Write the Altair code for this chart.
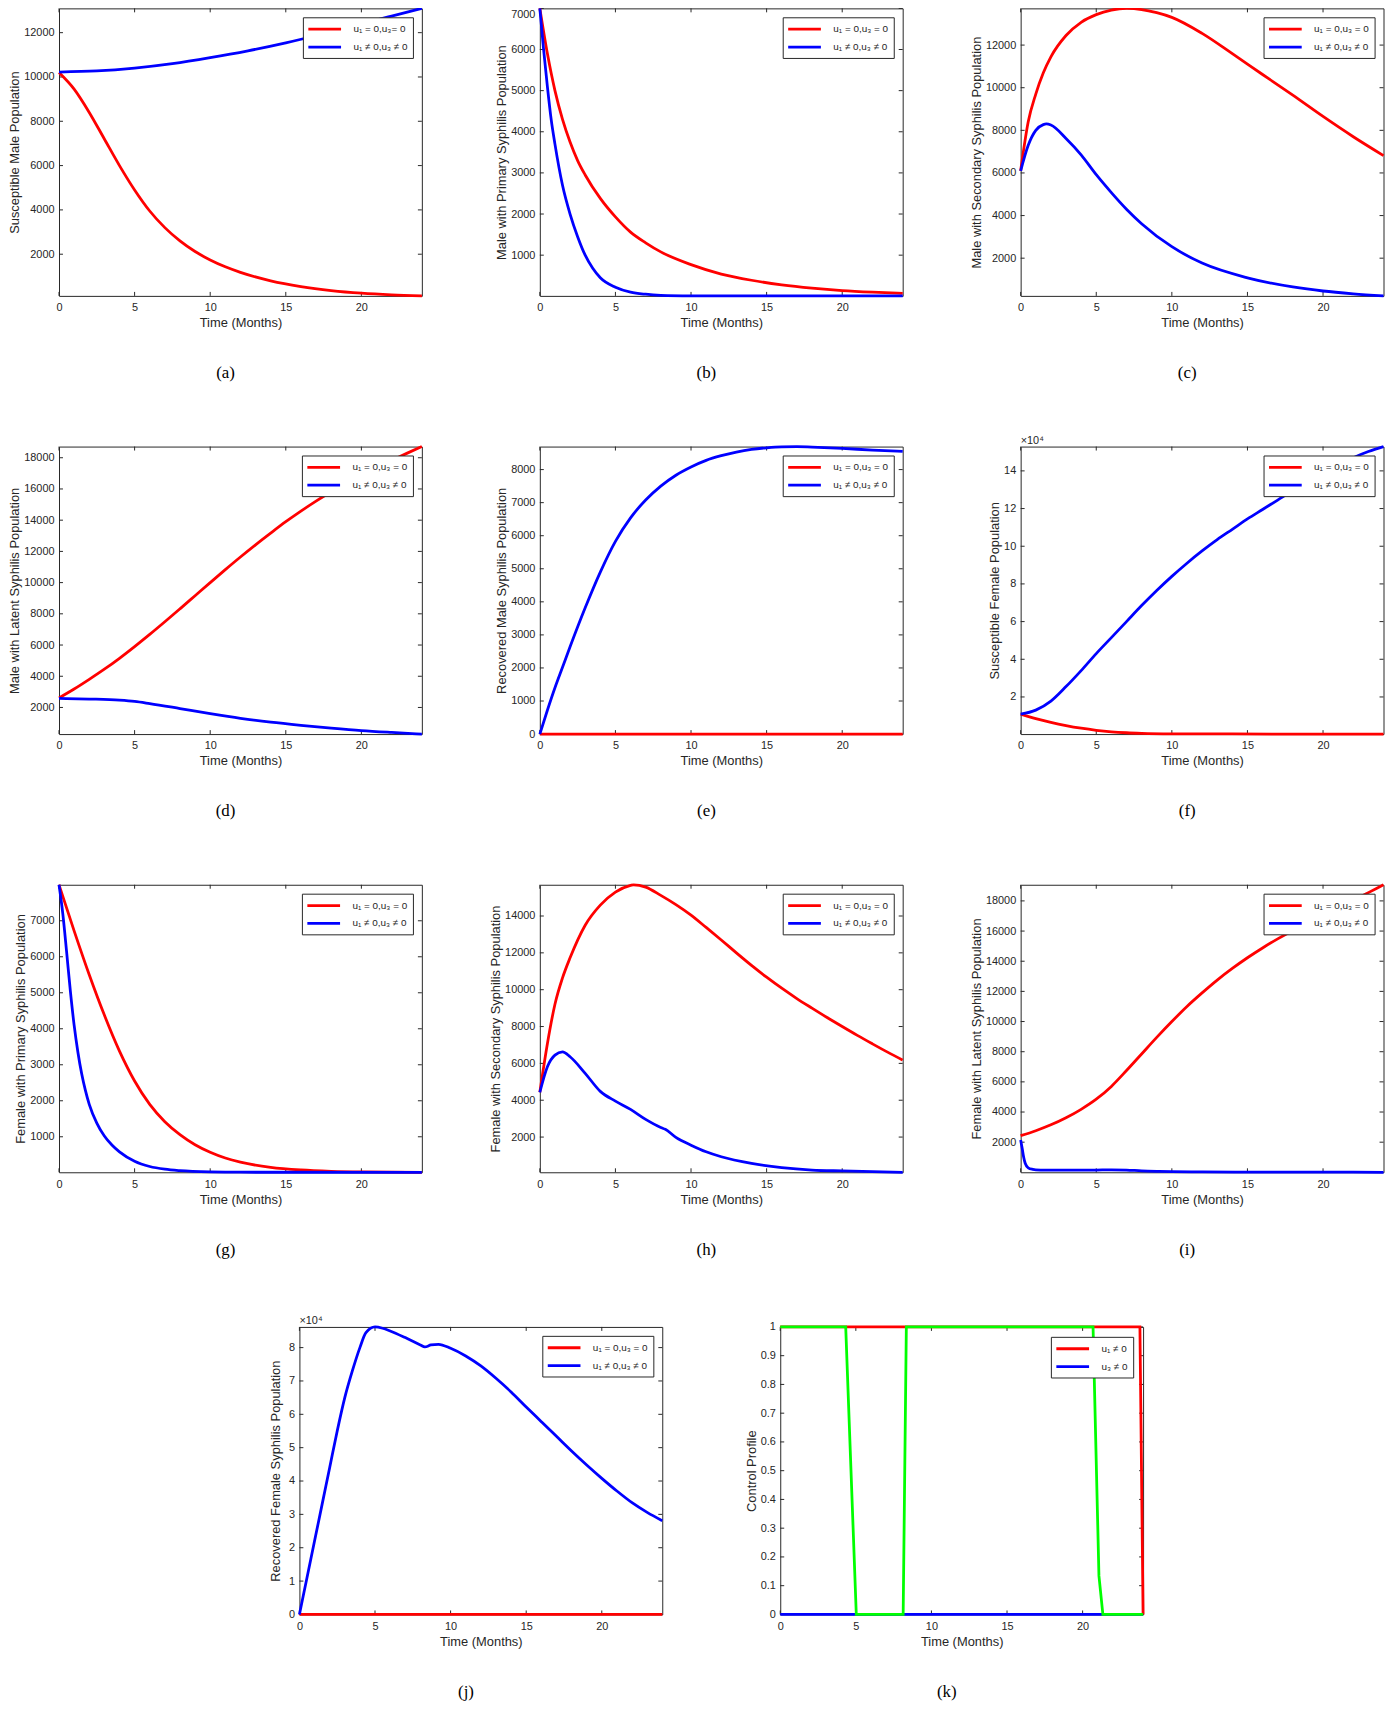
import altair as alt
import pandas as pd

FONT = "Liberation Sans"
SERIF = "Liberation Serif"
INK = "#262626"
RED, BLUE, GREEN = "#FF0000", "#0000FF", "#00FF00"
W, H = 366, 290
LW = 2.8

X_TICKS = [0, 5, 10, 15, 20]
X_TITLE = "Time (Months)"
LAB_OFF = "u₁ = 0,u₃ = 0"
LAB_OFF_A = "u₁ = 0,u₃= 0"
LAB_ON = "u₁ ≠ 0,u₃ ≠ 0"
LAB_U1 = "u₁ ≠ 0"
LAB_U3 = "u₃ ≠ 0"
SCALE_NOTE = "×10⁴"

# (a) Susceptible male
A_T_RED = [0, 1, 2, 3, 4, 5, 6, 7, 8, 9, 10, 11, 12, 14, 16, 18, 20, 22, 24]
A_RED = [10200, 9450, 8400, 7200, 6000, 4900, 3950, 3200, 2600, 2120, 1740, 1430, 1180, 800, 540, 360, 240, 165, 119]
A_T_BLUE = [0, 2.5, 5, 7.5, 10, 12.5, 15, 17.5, 20, 22, 24]
A_BLUE = [10220, 10270, 10400, 10600, 10870, 11180, 11540, 11950, 12400, 12750, 13096]
A_YTICKS = [2000, 4000, 6000, 8000, 10000, 12000]

# (b) Male primary
B_T_RED = [0, 0.5, 1, 1.5, 2, 2.5, 3, 4, 5, 6, 7, 8, 10, 12, 14, 16, 18, 20, 22, 24]
B_RED = [7000, 5900, 5000, 4300, 3750, 3300, 2950, 2380, 1930, 1560, 1300, 1080, 770, 540, 390, 280, 200, 140, 100, 70]
B_T_BLUE = [0, 0.25, 0.5, 0.75, 1, 1.5, 2, 2.5, 3, 3.5, 4, 5, 6, 7, 8, 10, 12, 16, 20, 24]
B_BLUE = [7000, 6000, 5100, 4300, 3700, 2700, 2000, 1450, 1000, 680, 450, 220, 100, 50, 25, 12, 10, 10, 10, 10]
B_YTICKS = [1000, 2000, 3000, 4000, 5000, 6000, 7000]

# (c) Male secondary
C_T_RED = [0, 0.5, 1, 1.5, 2, 3, 4, 5, 6, 7, 8, 9, 10, 12, 14, 16, 18, 20, 22, 24]
C_RED = [6100, 8400, 9700, 10700, 11450, 12450, 13070, 13430, 13640, 13720, 13670, 13520, 13300, 12550, 11600, 10620, 9650, 8650, 7700, 6815]
C_T_BLUE = [0, 0.5, 1, 1.5, 1.7, 2, 3, 4, 5, 6, 7, 8, 10, 12, 15, 18, 20, 22, 24]
C_BLUE = [6100, 7300, 8000, 8270, 8300, 8250, 7620, 6850, 5920, 5080, 4300, 3620, 2540, 1770, 1080, 650, 460, 330, 231]
C_YTICKS = [2000, 4000, 6000, 8000, 10000, 12000]

# (d) Male latent
D_T_RED = [0, 1, 2, 3, 4, 5, 6, 7, 8, 9, 10, 11, 12, 13, 14, 15, 16, 17, 18, 19, 20, 21, 22, 23, 24]
D_RED = [2610, 3180, 3800, 4450, 5150, 5900, 6680, 7490, 8320, 9160, 10000, 10830, 11640, 12420, 13170, 13900, 14580, 15220, 15820, 16380, 16900, 17380, 17830, 18280, 18716]
D_T_BLUE = [0, 2, 4, 5, 6, 8, 10, 12, 14, 16, 18, 20, 22, 24]
D_BLUE = [2580, 2540, 2470, 2390, 2250, 1930, 1600, 1300, 1060, 860, 680, 520, 400, 295]
D_YTICKS = [2000, 4000, 6000, 8000, 10000, 12000, 14000, 16000, 18000]

# (e) Recovered male
E_T_RED = [0, 24]
E_RED = [0, 0]
E_T_BLUE = [0, 0.5, 1, 1.5, 2, 3, 4, 5, 6, 7, 8, 9, 10, 11, 12, 13, 14, 15, 16, 17, 18, 20, 22, 24]
E_BLUE = [0, 720, 1400, 2020, 2640, 3820, 4900, 5830, 6540, 7080, 7500, 7830, 8080, 8280, 8420, 8530, 8610, 8660, 8690, 8696, 8680, 8640, 8590, 8550]
E_YTICKS = [0, 1000, 2000, 3000, 4000, 5000, 6000, 7000, 8000]

# (f) Susceptible female
F_T_RED = [0, 1, 2, 3, 4, 5, 6, 7, 8, 10, 14, 24]
F_RED = [10900, 8500, 6500, 4800, 3400, 2300, 1500, 1000, 700, 450, 350, 300]
F_T_BLUE = [0, 1, 2, 3, 4, 5, 6, 7, 8, 9, 10, 11, 12, 13, 14, 15, 16, 17, 18, 19, 20, 21, 22, 23, 24]
F_BLUE = [10900, 13000, 17800, 25500, 34000, 43000, 51500, 60000, 68500, 76500, 84000, 91000, 97500, 103500, 109000, 114500, 119500, 124500, 129500, 134000, 138500, 143000, 147000, 150300, 152900]
F_YTICKS = [20000, 40000, 60000, 80000, 100000, 120000, 140000]

# (g) Female primary
G_T_RED = [0, 1, 2, 3, 4, 5, 6, 7, 8, 9, 10, 11, 12, 14, 16, 18, 20, 24]
G_RED = [8000, 6720, 5500, 4380, 3380, 2550, 1900, 1420, 1060, 780, 570, 410, 295, 150, 78, 42, 25, 14]
G_T_BLUE = [0, 0.25, 0.5, 0.75, 1, 1.25, 1.5, 1.75, 2, 2.5, 3, 3.5, 4, 5, 6, 7, 8, 10, 12, 24]
G_BLUE = [8000, 7200, 6150, 5050, 4100, 3350, 2750, 2280, 1900, 1380, 1020, 770, 580, 320, 175, 100, 60, 25, 15, 14]
G_YTICKS = [1000, 2000, 3000, 4000, 5000, 6000, 7000]

# (h) Female secondary
H_T_RED = [0, 0.5, 1, 1.5, 2, 3, 4, 5, 6, 6.2, 7, 8, 9, 10, 11, 12, 13, 14, 15, 16, 17, 18, 19, 20, 21, 22, 23, 24]
H_RED = [4430, 7070, 9210, 10640, 11730, 13500, 14590, 15300, 15660, 15696, 15570, 15120, 14620, 14050, 13380, 12700, 12000, 11320, 10680, 10080, 9520, 9000, 8490, 8000, 7520, 7060, 6610, 6180]
H_T_BLUE = [0, 0.5, 1, 1.5, 2, 3, 4, 5, 6, 7, 8, 8.3, 9, 10, 11, 12, 14, 16, 18, 20, 24]
H_BLUE = [4430, 5820, 6450, 6625, 6360, 5460, 4480, 3950, 3500, 2960, 2520, 2420, 1980, 1560, 1200, 930, 570, 340, 210, 160, 89]
H_YTICKS = [2000, 4000, 6000, 8000, 10000, 12000, 14000]

# (i) Female latent
I_T_RED = [0, 1, 2, 3, 4, 5, 6, 7, 8, 9, 10, 11, 12, 13, 14, 15, 16, 17, 18, 19, 20, 21, 22, 23, 24]
I_RED = [2430, 2760, 3150, 3620, 4180, 4850, 5700, 6750, 7850, 8950, 10000, 11000, 11900, 12750, 13520, 14230, 14880, 15480, 16040, 16560, 17060, 17540, 18030, 18550, 19070]
I_T_BLUE = [0, 0.1, 0.2, 0.3, 0.5, 0.8, 1, 2, 3, 4, 5, 6, 7, 8, 9, 10, 12, 15, 20, 24]
I_BLUE = [2150, 1600, 1000, 600, 300, 200, 170, 150, 140, 140, 150, 170, 150, 100, 70, 50, 30, 20, 10, 5]
I_YTICKS = [2000, 4000, 6000, 8000, 10000, 12000, 14000, 16000, 18000]

# (j) Recovered female
J_T_RED = [0, 24]
J_RED = [0, 0]
J_T_BLUE = [0, 0.5, 1, 1.5, 2, 2.5, 3, 3.5, 4, 4.4, 5, 5.5, 6, 7, 8, 8.3, 8.7, 9.2, 10, 11, 12, 13, 14, 15, 16, 17, 18, 19, 20, 21, 22, 23, 24]
J_BLUE = [0, 11000, 22000, 33000, 44000, 55000, 65000, 73000, 80000, 84500, 86200, 85800, 85000, 83000, 80800, 80200, 80800, 81000, 79800, 77500, 74500, 70800, 66700, 62200, 57800, 53400, 49000, 44800, 40800, 37000, 33500, 30600, 28100]
J_YTICKS = [0, 10000, 20000, 30000, 40000, 50000, 60000, 70000, 80000]

# (k) Control profile
K_T_U1 = [0, 23.79, 24]
K_U1 = [1, 1, 0]
K_T_U3 = [0, 24]
K_U3 = [0, 0]
K_T_G = [0, 4.33, 5.03, 8.13, 8.34, 20.69, 21.08, 21.34, 24]
K_G = [1, 1, 0, 0, 1, 1, 0.134, 0, 0]
K_YTICKS = [0, 0.1, 0.2, 0.3, 0.4, 0.5, 0.6, 0.7, 0.8, 0.9, 1]


def panel(ytitle, caption, ydom, yticks, red, blue, labels, green=None,
          e4=False, interp="monotone", yextra=None, leg_offset=9, fmt="d"):
    xs = alt.Scale(domain=[0, 24], nice=False, zero=False)
    ys = alt.Scale(domain=ydom, nice=False, zero=False)
    rows = []
    for lab, (ts, vs) in zip(labels, [red, blue]):
        rows += [{"t": t, "v": v, "s": lab} for t, v in zip(ts, vs)]
    df = pd.DataFrame(rows)
    yax = dict(values=yticks, title=ytitle, ticks=False, domain=False, grid=False,
               labelPadding=5, titlePadding=2, labelOverlap=False)
    if e4:
        yax["labelExpr"] = "datum.value / 10000"
    else:
        yax["format"] = fmt
    if yextra:
        yax.update(yextra)
    yaxis = alt.Axis(**yax)
    xaxis = alt.Axis(values=X_TICKS, format="d", title=X_TITLE, ticks=False, domain=False,
                     grid=False, labelPadding=6, titlePadding=4, labelFlush=False,
                     labelOverlap=False)
    leg = alt.Legend(title=None, orient="top-right", offset=leg_offset, fillColor="white",
                     strokeColor=INK, padding=5, symbolType="M-3,0H3", symbolSize=121,
                     symbolOffset=10, symbolStrokeWidth=LW, labelFontSize=10,
                     labelOffset=22, rowPadding=5, labelColor=INK, labelFont=FONT,
                     cornerRadius=0)
    tx = alt.X("t:Q", scale=xs, axis=xaxis)
    ty = alt.Y("v:Q", scale=ys, axis=yaxis)
    lines = alt.Chart(df).mark_line(strokeWidth=LW, interpolate=interp).encode(
        x=tx, y=ty,
        color=alt.Color("s:N", scale=alt.Scale(domain=labels, range=[RED, BLUE]), legend=leg),
    )
    xt = pd.DataFrame({"t": X_TICKS})
    yt = pd.DataFrame({"v": yticks})
    layers = [
        alt.Chart(xt).mark_rule(color=INK, strokeWidth=1).encode(x=tx, y=alt.value(H), y2=alt.value(H - 4)),
        alt.Chart(xt).mark_rule(color=INK, strokeWidth=1).encode(x=tx, y=alt.value(0), y2=alt.value(4)),
        alt.Chart(yt).mark_rule(color=INK, strokeWidth=1).encode(y=ty, x=alt.value(0), x2=alt.value(4)),
        alt.Chart(yt).mark_rule(color=INK, strokeWidth=1).encode(y=ty, x=alt.value(W), x2=alt.value(W - 4)),
        lines,
    ]
    if green is not None:
        gdf = pd.DataFrame({"t": green[0], "v": green[1]})
        layers.append(alt.Chart(gdf).mark_line(color=GREEN, strokeWidth=LW).encode(x=tx, y=ty))
    if e4:
        layers.append(
            alt.Chart(pd.DataFrame({"lab": [SCALE_NOTE]})).mark_text(
                align="left", baseline="bottom", fontSize=11, color=INK, font=FONT
            ).encode(x=alt.value(0), y=alt.value(-1), text="lab:N")
        )
    return alt.layer(*layers).properties(
        width=W, height=H,
        title=alt.TitleParams(caption, orient="bottom", anchor="middle", frame="group", dx=-15,
                              offset=36, font=SERIF, fontSize=17, fontWeight="normal", color="black"),
    )


pa = panel("Susceptible Male Population", "(a)", [119, 13096], A_YTICKS,
           (A_T_RED, A_RED), (A_T_BLUE, A_BLUE), [LAB_OFF_A, LAB_ON])
pb = panel("Male with Primary Syphilis Population", "(b)", [10, 7000], B_YTICKS,
           (B_T_RED, B_RED), (B_T_BLUE, B_BLUE), [LAB_OFF, LAB_ON],
           yextra={"labelFlush": True, "labelFlushOffset": 0})
pc = panel("Male with Secondary Syphilis Population", "(c)", [231, 13723], C_YTICKS,
           (C_T_RED, C_RED), (C_T_BLUE, C_BLUE), [LAB_OFF, LAB_ON])
pd_ = panel("Male with Latent Syphilis Population", "(d)", [295, 18716], D_YTICKS,
            (D_T_RED, D_RED), (D_T_BLUE, D_BLUE), [LAB_OFF, LAB_ON])
pe = panel("Recovered Male Syphilis Population", "(e)", [0, 8696], E_YTICKS,
           (E_T_RED, E_RED), (E_T_BLUE, E_BLUE), [LAB_OFF, LAB_ON])
pf = panel("Susceptible Female Population", "(f)", [300, 152900], F_YTICKS,
           (F_T_RED, F_RED), (F_T_BLUE, F_BLUE), [LAB_OFF, LAB_ON], e4=True)
pg = panel("Female with Primary Syphilis Population", "(g)", [14, 8000], G_YTICKS,
           (G_T_RED, G_RED), (G_T_BLUE, G_BLUE), [LAB_OFF, LAB_ON])
ph = panel("Female with Secondary Syphilis Population", "(h)", [89, 15696], H_YTICKS,
           (H_T_RED, H_RED), (H_T_BLUE, H_BLUE), [LAB_OFF, LAB_ON])
pi = panel("Female with Latent Syphilis Population", "(i)", [5, 19070], I_YTICKS,
           (I_T_RED, I_RED), (I_T_BLUE, I_BLUE), [LAB_OFF, LAB_ON])
pj = panel("Recovered Female Syphilis Population", "(j)", [0, 86200], J_YTICKS,
           (J_T_RED, J_RED), (J_T_BLUE, J_BLUE), [LAB_OFF, LAB_ON], e4=True,
           yextra={"minExtent": 51, "titleX": -17})
pk = panel("Control Profile", "(k)", [0, 1], K_YTICKS,
           (K_T_U1, K_U1), (K_T_U3, K_U3), [LAB_U1, LAB_U3],
           green=(K_T_G, K_G), interp="linear", leg_offset=10, fmt="~g")

grid = alt.concat(pa, pb, pc, pd_, pe, pf, pg, ph, pi, columns=3,
                  spacing={"row": 152, "column": 119}, bounds="flush"
                  ).resolve_scale(color="independent").resolve_legend(color="independent")
row4 = alt.hconcat(pj, pk, spacing=119, bounds="flush"
                   ).resolve_scale(color="independent").resolve_legend(color="independent")

chart = alt.vconcat(grid, row4, spacing=56, center=True).resolve_scale(
    color="independent").resolve_legend(color="independent").properties(
    padding={"top": -14, "left": 0, "right": 0, "bottom": 0})

chart = chart.configure_view(stroke=INK, strokeWidth=1).configure_axis(
    labelFont=FONT, titleFont=FONT, labelColor=INK, titleColor=INK,
    labelFontSize=11, titleFontSize=13, titleFontWeight="normal",
).configure_text(font=FONT)

chart.save("out.html", embed_options={"renderer": "svg", "actions": False})
